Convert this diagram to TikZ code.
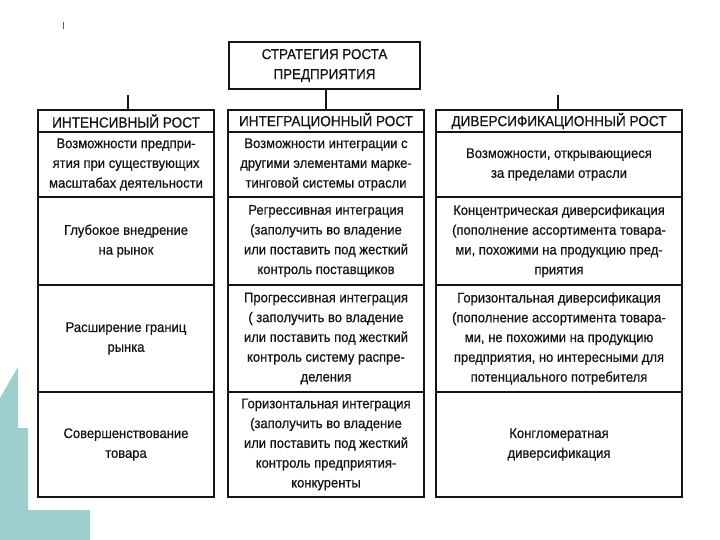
\documentclass[tikz,border=0pt]{standalone}
\usepackage{fontspec}
\setmainfont{Liberation Sans}[FakeBold=0.6,FakeStretch=0.93]
\definecolor{teal1}{RGB}{158,206,206}
\definecolor{ink}{RGB}{20,20,20}
\begin{document}
\begin{tikzpicture}[x=1pt,y=-1pt,
  cell/.style={draw=ink,line width=1.7pt,rectangle,inner sep=0pt,align=center,text=ink,
    font=\fontsize{14}{19.8}\selectfont},
  hdr/.style={cell,font=\fontsize{14.6}{16}\selectfont},
  link/.style={draw=ink,line width=1.7pt}]
\useasboundingbox (0,0) rectangle (720,540);
\fill[white] (0,0) rectangle (720,540);
% teal decoration
\fill[teal1] (0,398) -- (18,367) -- (18,428) -- (28,428) -- (28,510) -- (90,510) -- (90,540) -- (0,540) -- cycle;
\draw[ink!70,line width=0.8pt] (63,22) -- (63,29);
% top box
\node[cell,minimum width=191pt,minimum height=47pt,font=\fontsize{14.4}{20}\selectfont] (top) at (324.5,65.5) {СТРАТЕГИЯ РОСТА\\ПРЕДПРИЯТИЯ};
% column 1
\node[hdr,minimum width=176pt,minimum height=22pt] (h1) at (126,121) {ИНТЕНСИВНЫЙ РОСТ};
\node[cell,minimum width=176pt,minimum height=65pt] (a1) at (126,164.5) {Возможности предпри-\\ятия при существующих\\масштабах деятельности};
\node[cell,minimum width=176pt,minimum height=88pt] (a2) at (126,241) {Глубокое внедрение\\на рынок};
\node[cell,minimum width=176pt,minimum height=107pt] (a3) at (126,338.5) {Расширение границ\\рынка};
\node[cell,minimum width=176pt,minimum height=105pt] (a4) at (126,444.5) {Совершенствование\\товара};
% column 2
\node[hdr,minimum width=196pt,minimum height=22pt] (h2) at (326,121) {ИНТЕГРАЦИОННЫЙ РОСТ};
\node[cell,minimum width=196pt,minimum height=65pt] (b1) at (326,164.5) {Возможности интеграции с\\другими элементами марке-\\тинговой системы отрасли};
\node[cell,minimum width=196pt,minimum height=88pt] (b2) at (326,241) {Регрессивная интеграция\\(заполучить во владение\\или поставить под жесткий\\контроль поставщиков};
\node[cell,minimum width=196pt,minimum height=107pt] (b3) at (326,338.5) {Прогрессивная интеграция\\( заполучить во владение\\или поставить под жесткий\\контроль систему распре-\\деления};
\node[cell,minimum width=196pt,minimum height=105pt] (b4) at (326,444.5) {Горизонтальная интеграция\\(заполучить во владение\\или поставить под жесткий\\контроль предприятия-\\конкуренты};
% column 3
\node[hdr,minimum width=246pt,minimum height=22pt] (h3) at (559,121) {ДИВЕРСИФИКАЦИОННЫЙ РОСТ};
\node[cell,minimum width=246pt,minimum height=65pt] (c1) at (559,164.5) {Возможности, открывающиеся\\за пределами отрасли};
\node[cell,minimum width=246pt,minimum height=88pt] (c2) at (559,241) {Концентрическая диверсификация\\(пополнение ассортимента товара-\\ми, похожими на продукцию пред-\\приятия};
\node[cell,minimum width=246pt,minimum height=107pt] (c3) at (559,338.5) {Горизонтальная диверсификация\\(пополнение ассортимента товара-\\ми, не похожими на продукцию\\предприятия, но интересными для\\потенциального потребителя};
\node[cell,minimum width=246pt,minimum height=105pt] (c4) at (559,444.5) {Конгломератная\\диверсификация};
% connectors
\coordinate (s1) at (128,95);
\coordinate (s3) at (558,95);
\draw[link] (top.south -| h2.north) -- (h2.north);
\draw[link] (s1) -- (s1 |- h1.north);
\draw[link] (s3) -- (s3 |- h3.north);
\end{tikzpicture}
\end{document}
